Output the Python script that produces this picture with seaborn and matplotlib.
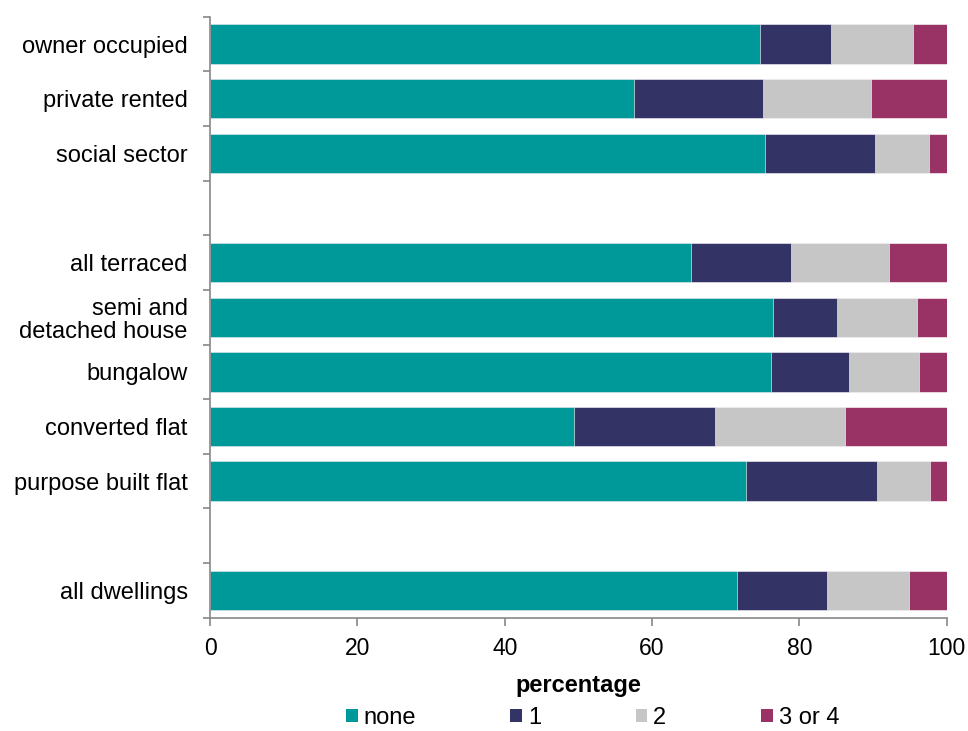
import numpy as np
import pandas as pd
import matplotlib.pyplot as plt
import seaborn as sns
from matplotlib.patches import Patch

# ---------------------------
# Data (percentages)
# ---------------------------
categories = ["owner occupied", "private rented", "social sector", " ",
              "all terraced", "semi and\ndetached house", "bungalow",
              "converted flat", "purpose built flat", "  ", "all dwellings"]
none_pct = [74.6, 57.5, 75.4, np.nan, 65.3, 76.4, 76.2, 49.4, 72.7, np.nan, 71.6]
one_pct = [9.7, 17.5, 14.8, np.nan, 13.5, 8.7, 10.5, 19.2, 17.8, np.nan, 12.1]
two_pct = [11.1, 14.7, 7.4, np.nan, 13.4, 10.9, 9.5, 17.6, 7.3, np.nan, 11.2]
three_four_pct = [4.6, 10.3, 2.4, np.nan, 7.8, 4.0, 3.8, 13.8, 2.2, np.nan, 5.1]

series_names = ["none", "1", "2", "3 or 4"]
colors = ["#009999", "#333366", "#C6C6C6", "#993366"]

df = pd.DataFrame({"category": categories, "none": none_pct, "1": one_pct,
                   "2": two_pct, "3 or 4": three_four_pct})
cum = df[series_names].cumsum(axis=1)

sns.set_theme(style="white")
plt.rcParams['font.family'] = ['Liberation Sans', 'DejaVu Sans']
plt.rcParams['text.color'] = 'black'
plt.rcParams['xtick.color'] = 'black'
plt.rcParams['ytick.color'] = 'black'
plt.rcParams['axes.labelcolor'] = 'black'

fig = plt.figure(figsize=(9.68, 7.31), dpi=100)
ax = fig.add_axes([0.217, 0.155, 0.761, 0.822])

# stacked bars: draw cumulative totals from the back to the front
for name, col in reversed(list(zip(series_names, colors))):
    plot_df = pd.DataFrame({"category": df["category"], "value": cum[name]})
    sns.barplot(data=plot_df, x="value", y="category", order=categories,
                color=col, width=0.72, orient="h", ax=ax, saturation=1,
                edgecolor="white", linewidth=0.4)

ax.set_xlim(0, 100)
ax.set_ylim(len(categories) - 0.5, -0.5)
ax.set_xticks([0, 20, 40, 60, 80, 100])
ax.set_yticks(range(len(categories)))
ax.set_yticklabels(categories, fontsize=17, linespacing=1.05)
ax.set_yticks(np.arange(-0.5, len(categories), 1.0), minor=True)
ax.tick_params(axis="y", which="major", length=0, pad=16)
ax.tick_params(axis="y", which="minor", length=5, width=1.2, color="#888888",
               direction="out", left=True)
ax.tick_params(axis="x", length=6, width=1.2, color="#888888", direction="out",
               bottom=True, labelsize=16.5, pad=8)

for s in ["top", "right"]:
    ax.spines[s].set_visible(False)
for s in ["left", "bottom"]:
    ax.spines[s].set_color("#888888")
    ax.spines[s].set_linewidth(1.2)

ax.set_ylabel("")
ax.set_xlabel("percentage", fontsize=17, fontweight="bold", labelpad=10)

handles = [Patch(facecolor=c, edgecolor="none", label=n)
           for n, c in zip(series_names, colors)]
fig.legend(handles=handles, loc="center", bbox_to_anchor=(0.612, 0.018), ncol=4,
           frameon=False, fontsize=17, handlelength=0.5, handleheight=0.5,
           handletextpad=0.25, columnspacing=4.0, borderpad=0)

fig.savefig("out.png", dpi=100)
